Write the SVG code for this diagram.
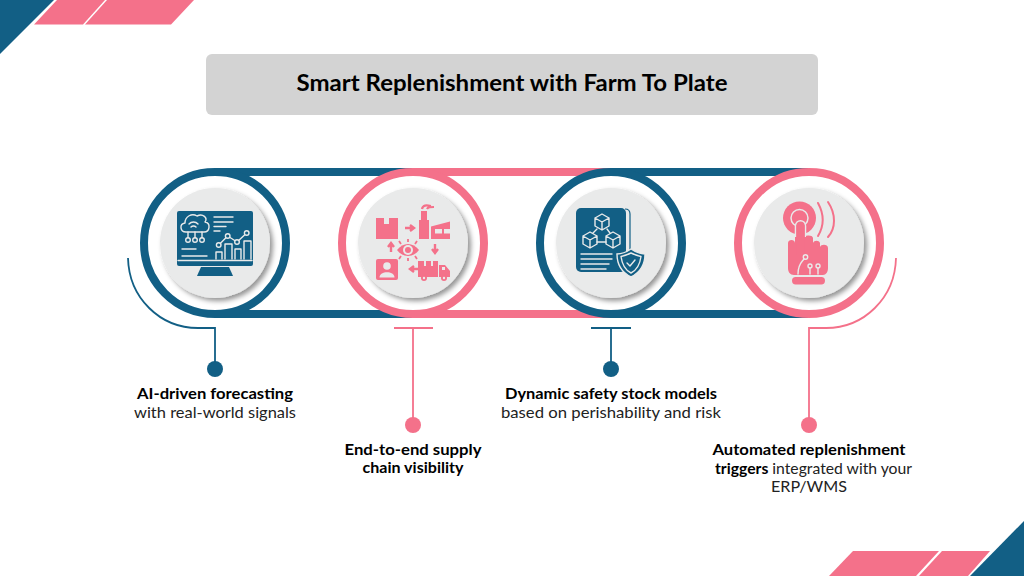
<svg xmlns="http://www.w3.org/2000/svg" width="1024" height="576" viewBox="0 0 1024 576">
<defs>
<filter id="sh" x="-20%" y="-20%" width="150%" height="150%"><feDropShadow dx="3" dy="3" stdDeviation="2.5" flood-color="#000" flood-opacity="0.42"/></filter>
</defs>
<style>
.b{fill:#125f85}.p{fill:#f4718a}
.bs{stroke:#125f85;fill:none}.ps{stroke:#f4718a;fill:none}
.ring{fill:#fff;stroke-width:8}
.disc{fill:#e9eaea;filter:url(#sh)}
.w{stroke:#e9eaea;stroke-width:1.400;fill:none;stroke-linecap:round;stroke-linejoin:round}
.wf{fill:#e9eaea}
text{font-family:"Lato","Liberation Sans",sans-serif;font-size:15px;fill:#111;text-anchor:middle}
.h{font-weight:700;fill:#000}
.l{fill:#222}
</style>
<rect width="1024" height="576" fill="#fff"/>
<g id="corners">
<polygon class="b" points="0,0 54,0 0,54"/>
<polygon class="p" points="57,0 105,0 83,24.500 34,24.500"/>
<polygon class="p" points="107,0 194,0 171,24.500 85,24.500"/>
<polygon class="b" points="1024,521 1024,576 970,576"/>
<polygon class="p" points="853,551 939,551 916,576 829,576"/>
<polygon class="p" points="942,551 990,551 968,576 919,576"/>
</g>
<g id="title">
<rect x="206" y="54" width="612" height="61" rx="6" fill="#d3d3d3"/>
<text class="h" x="512" y="91" style="font-size:22px" textLength="431" lengthAdjust="spacingAndGlyphs">Smart Replenishment with Farm To Plate</text>
</g>
<g id="connectors">
<path class="bs" stroke-width="8" d="M215 172H413M215 314H413"/>
<path class="ps" stroke-width="8" d="M413 172H611M413 314H611"/>
<path class="bs" stroke-width="8" d="M611 172H809M611 314H809"/>
<path class="bs" stroke-width="1.800" d="M128 258C129 298 160 328 198 328H215V369"/>
<path class="ps" stroke-width="1.800" d="M394 328H433M413 328V425"/>
<path class="bs" stroke-width="1.800" d="M591 328H631M611 328V369"/>
<path class="ps" stroke-width="1.800" d="M896 258C895 298 864 328 826 328H809V425"/>
</g>
<g id="node1">
<circle class="ring bs" cx="215" cy="243" r="71"/>
<circle class="disc" cx="215" cy="243" r="55"/>
<rect class="b" x="177" y="211" width="76" height="55" rx="2"/>
<polygon class="b" points="201,267 229,267 233,276 197,276"/>
<path class="w" d="M178 260.500H252"/>
<path class="w" d="M186 232C180 232 179 224 185 223C185 216 192 213 197 216C203 213 208 218 205 222C211 223 210 232 204 232Z"/>
<path class="w" d="M189 224a6 6 0 0 1 9 0M191 227a3.500 3.500 0 0 1 5 0"/>
<path class="w" d="M188 232V237.500M195 232V237.500M202 232V237.500"/>
<circle class="w" cx="188" cy="240" r="2.300"/><circle class="w" cx="195" cy="240" r="2.300"/><circle class="w" cx="202" cy="240" r="2.300"/>
<path class="w" d="M214 217H233M214 222H233M214 226.500H226M214 231H220M182 249H196M182 256H207"/>
<path class="w" d="M216 259V252H222V259M225 259V244H232V259M235 259V249H241V259M244 259V241H251V259"/>
<path class="w" d="M218.700 245L227.700 236L237 242L246.700 233"/>
<g fill="#125f85" stroke="#e9eaea" stroke-width="1.400"><circle cx="218.700" cy="245" r="2.300"/><circle cx="227.700" cy="236" r="2.300"/><circle cx="237" cy="242" r="2.300"/><circle cx="246.700" cy="233" r="2.300"/></g>
<circle class="b" cx="215" cy="369" r="8"/>
<text class="h" x="215" y="399" textLength="156" lengthAdjust="spacingAndGlyphs">AI-driven forecasting</text>
<text class="l" x="215" y="418" textLength="162" lengthAdjust="spacingAndGlyphs">with real-world signals</text>
</g>
<g id="node2">
<circle class="ring ps" cx="413" cy="243" r="71"/>
<circle class="disc" cx="413" cy="243" r="55"/>
<path class="p" d="M376 218H384V224H389V218H398V239H376Z"/>
<path class="p" d="M419 239V220H421V211H427V220H429V239Z"/>
<path class="ps" stroke-width="2.200" d="M422 209C423 205 426 205 431 206M427 209C428 207 430 207 434 207"/>
<path class="p" d="M431 226.500L450 221.500V239H431Z"/>
<rect class="wf" x="435" y="229" width="7" height="4.500"/><rect class="wf" x="444" y="229" width="6" height="4.500"/>
<path class="ps" stroke-width="2.400" d="M405 228H413M410 225L414 228L410 231M435 244V252M432 249L435 253L438 249M421 269H410M414 266L410 269L414 272M391 252V244M388 247L391 243L394 247"/>
<path class="p" d="M397 250C403 242 413 242 419 250C413 258 403 258 397 250Z"/>
<circle class="wf" cx="408" cy="250" r="5"/><circle class="p" cx="408" cy="250" r="3"/>
<path class="ps" stroke-width="1.800" d="M408 239V242M399 241L401 244M417 241L415 244M408 258V261M399 259L401 256M417 259L415 256"/>
<rect class="p" x="376" y="259" width="22" height="21" rx="2"/>
<circle class="wf" cx="387" cy="266" r="3.800"/><path class="wf" d="M379.500 277.500C379.500 270.500 394.500 270.500 394.500 277.500Z"/>
<path class="p" d="M418 261H438V277H418ZM439 265H445L450 271V277H439Z"/>
<rect class="wf" x="424" y="261" width="2" height="5"/><rect class="wf" x="431" y="261" width="2" height="5"/><rect class="wf" x="442" y="267" width="3" height="3"/>
<circle class="p" cx="424" cy="278" r="3"/><circle class="p" cx="444" cy="278" r="3"/>
<circle class="wf" cx="424" cy="278" r="1.200"/><circle class="wf" cx="444" cy="278" r="1.200"/>
<circle class="p" cx="413" cy="425" r="8"/>
<text class="h" x="413" y="455" textLength="137" lengthAdjust="spacingAndGlyphs">End-to-end supply</text>
<text class="h" x="413" y="473" textLength="101" lengthAdjust="spacingAndGlyphs">chain visibility</text>
</g>
<g id="node3">
<circle class="ring bs" cx="611" cy="243" r="71"/>
<circle class="disc" cx="611" cy="243" r="55"/>
<path class="bs" stroke-width="1.200" d="M625 209C628 209 630 211 630 214V262"/>
<rect class="b" x="576" y="208" width="50" height="64" rx="5"/>
<g class="w">
<path d="M602 214L609 218V226L602 230L595 226V218ZM595 218L602 222L609 218M602 222V230"/>
<path d="M590 232L597 236V244L590 248L583 244V236ZM583 236L590 240L597 236M590 240V248"/>
<path d="M613 232L620 236V244L613 248L606 244V236ZM606 236L613 240L620 236M613 240V248"/>
<path d="M597 229L593 233M607 229L610 233M597 242H606"/>
<path d="M581 254H612M581 259H612M581 264H609M581 269H606"/>
</g>
<path class="b" stroke="#e9eaea" stroke-width="1.400" d="M631 249C625 253 621 254 617 254C617 264 621 272 631 277C641 272 645 264 645 254C641 254 637 253 631 249Z"/>
<path class="w" d="M631 253C627 255 624 256 621 256.500C622 264 625 270 631 273C637 270 640 264 641 256.500C638 256 635 255 631 253Z"/>
<path class="w" d="M627 263L630 266L635 260"/>
<circle class="b" cx="611" cy="369" r="8"/>
<text class="h" x="611" y="399" textLength="212" lengthAdjust="spacingAndGlyphs">Dynamic safety stock models</text>
<text class="l" x="611" y="418" textLength="220" lengthAdjust="spacingAndGlyphs">based on perishability and risk</text>
</g>
<g id="node4">
<circle class="ring ps" cx="809" cy="243" r="71"/>
<circle class="disc" cx="809" cy="243" r="55"/>
<circle class="p" cx="799.500" cy="218" r="16.500"/>
<circle cx="799.500" cy="218" r="8.500" fill="none" stroke="#e9eaea" stroke-width="1.500"/>
<path class="ps" stroke-width="2" stroke-linecap="round" d="M818 203C824 214 824 226 818 236M828 202C836 214 836 228 828 237"/>
<path class="p" stroke="#e9eaea" stroke-width="1.500" d="M795.500 262V226C795.500 219 805.500 219 805.500 226V262Z"/>
<path class="p" d="M788 243C788 239 795 239 795 243V237H806V236C807 235 813 235 813 238V243C814 240 819 240 820 243V247C821 244 828 244 828 248V268C828 272 826 275 823 275H794C790 275 788 272 788 268Z"/>
<rect class="p" x="796.500" y="225" width="8" height="30"/>
<rect class="p" x="792" y="277" width="33" height="7.500" rx="3.700"/>
<g class="w">
<circle cx="805.500" cy="257" r="2.200"/><circle cx="810" cy="266" r="2"/><circle cx="818" cy="266" r="2"/>
<path d="M804 259C802 262 798 264 798 274M810 268V274M818 268V274"/>
</g>
<circle class="p" cx="809" cy="425" r="8"/>
<text class="h" x="809" y="455" textLength="193" lengthAdjust="spacingAndGlyphs">Automated replenishment</text>
<text x="813.500" y="474" class="l" textLength="197" lengthAdjust="spacingAndGlyphs"><tspan class="h">triggers</tspan> integrated with your</text>
<text class="l" x="809" y="492" textLength="76" lengthAdjust="spacingAndGlyphs">ERP/WMS</text>
</g>
</svg>
